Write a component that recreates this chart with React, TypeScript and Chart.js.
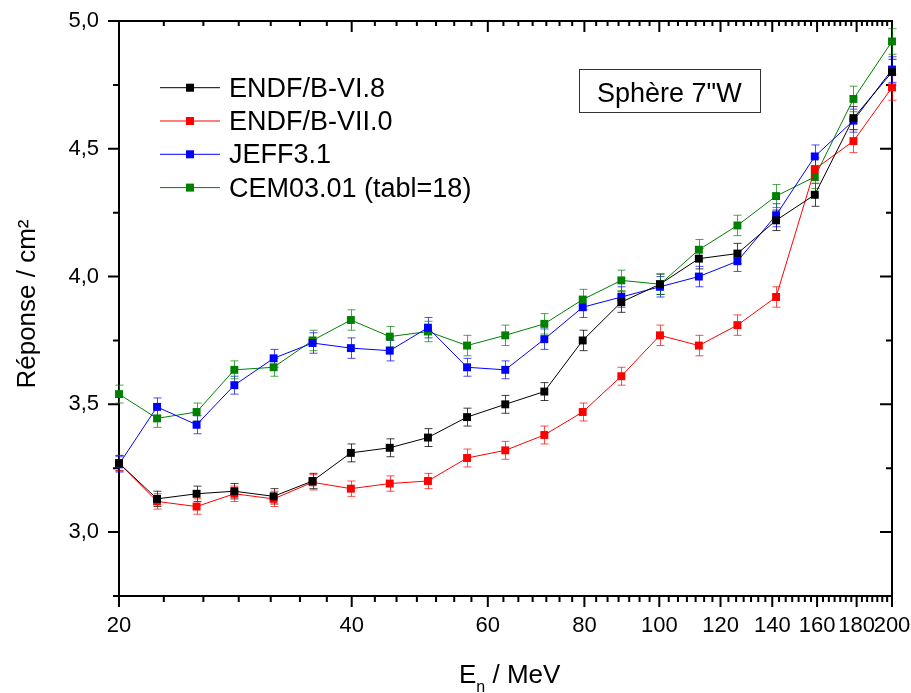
import React, { useEffect, useRef } from "react";
import { Chart, registerables } from "chart.js";

Chart.register(...registerables);

// ---- data ----
const energies = [20, 22.4, 25.2, 28.2, 31.7, 35.6, 39.9, 44.8, 50.2, 56.4, 63.2, 71.0, 79.6, 89.3, 100.2, 112.5, 126.2, 141.6, 158.9, 178.3, 200];

const endfB68 = [3.27, 3.13, 3.15, 3.16, 3.14, 3.2, 3.31, 3.33, 3.37, 3.45, 3.5, 3.55, 3.75, 3.9, 3.97, 4.07, 4.09, 4.22, 4.32, 4.62, 4.8];
const endfB68Err = [0.03, 0.03, 0.03, 0.03, 0.03, 0.03, 0.035, 0.035, 0.035, 0.035, 0.035, 0.035, 0.04, 0.04, 0.04, 0.04, 0.04, 0.04, 0.045, 0.045, 0.05];

const endfB70 = [3.27, 3.12, 3.1, 3.15, 3.13, 3.195, 3.17, 3.19, 3.2, 3.29, 3.32, 3.38, 3.47, 3.61, 3.77, 3.73, 3.81, 3.92, 4.42, 4.53, 4.74];
const endfB70Err = [0.03, 0.03, 0.03, 0.03, 0.03, 0.03, 0.03, 0.03, 0.03, 0.035, 0.035, 0.035, 0.035, 0.035, 0.04, 0.04, 0.04, 0.04, 0.045, 0.045, 0.05];

const jeff31 = [3.265, 3.49, 3.42, 3.575, 3.68, 3.74, 3.72, 3.71, 3.8, 3.645, 3.635, 3.755, 3.88, 3.92, 3.96, 4.0, 4.06, 4.24, 4.47, 4.61, 4.81];
const jeff31Err = [0.03, 0.035, 0.035, 0.035, 0.035, 0.04, 0.04, 0.04, 0.04, 0.035, 0.035, 0.04, 0.04, 0.04, 0.04, 0.04, 0.04, 0.045, 0.045, 0.045, 0.05];

const cem0301 = [3.54, 3.445, 3.47, 3.635, 3.645, 3.75, 3.83, 3.765, 3.785, 3.73, 3.77, 3.815, 3.91, 3.985, 3.97, 4.105, 4.2, 4.315, 4.39, 4.695, 4.92];
const cem0301Err = [0.035, 0.035, 0.035, 0.035, 0.035, 0.04, 0.04, 0.04, 0.04, 0.04, 0.04, 0.04, 0.04, 0.04, 0.04, 0.04, 0.04, 0.045, 0.045, 0.05, 0.05];

const seriesLabels = ["ENDF/B-VI.8", "ENDF/B-VII.0", "JEFF3.1", "CEM03.01 (tabl=18)"];
const seriesColors = ["#000000", "#ff0000", "#0000ff", "#008000"];
const errorColors = ["rgba(0,0,0,0.75)", "rgba(255,0,0,0.7)", "rgba(0,0,255,0.7)", "rgba(0,128,0,0.7)"];

const xMajorTicks = [20, 40, 60, 80, 100, 120, 140, 160, 180, 200];
const yMajorTicks = [3.0, 3.5, 4.0, 4.5, 5.0];
const yMinorTicks = [2.75, 3.25, 3.75, 4.25, 4.75];

const annotationText = 'Sphère 7"W';
const yTitle = "Réponse / cm²";

const FONT = "'Liberation Sans', Arial, Helvetica, sans-serif";

const decorPlugin = {
  id: "decor",
  beforeDatasetsDraw(chart: any) {
    const { ctx, chartArea: a, scales } = chart;
    const xs = scales.x;
    const ys = scales.y;
    ctx.save();
    ctx.strokeStyle = "#000";
    ctx.lineWidth = 2;
    ctx.strokeRect(a.left, a.top, a.right - a.left, a.bottom - a.top);
    ctx.beginPath();
    for (const v of xMajorTicks) {
      const px = xs.getPixelForValue(v);
      ctx.moveTo(px, a.bottom);
      ctx.lineTo(px, a.bottom + 11);
      ctx.moveTo(px, a.top);
      ctx.lineTo(px, a.top + 11);
    }
    for (let i = 0; i < xMajorTicks.length - 1; i++) {
      const step = (xMajorTicks[i + 1] - xMajorTicks[i]) / 7;
      for (let k = 1; k <= 6; k++) {
        const px = xs.getPixelForValue(xMajorTicks[i] + k * step);
        ctx.moveTo(px, a.bottom);
        ctx.lineTo(px, a.bottom + 6);
        ctx.moveTo(px, a.top);
        ctx.lineTo(px, a.top + 5);
      }
    }
    for (const v of yMajorTicks) {
      const py = ys.getPixelForValue(v);
      ctx.moveTo(a.left - 11, py);
      ctx.lineTo(a.left, py);
      ctx.moveTo(a.right - 12, py);
      ctx.lineTo(a.right, py);
    }
    for (const v of yMinorTicks) {
      const py = ys.getPixelForValue(v);
      ctx.moveTo(a.left - 6, py);
      ctx.lineTo(a.left, py);
      ctx.moveTo(a.right - 6, py);
      ctx.lineTo(a.right, py);
    }
    ctx.stroke();

    // error bars
    chart.data.datasets.forEach((ds: any) => {
      ctx.strokeStyle = ds.errorColor;
      ctx.lineWidth = 1;
      ctx.beginPath();
      ds.data.forEach((p: any, i: number) => {
        const px = Math.round(xs.getPixelForValue(p.x)) + 0.5;
        const t = ys.getPixelForValue(p.y + ds.errors[i]);
        const b = ys.getPixelForValue(p.y - ds.errors[i]);
        ctx.moveTo(px, t);
        ctx.lineTo(px, b);
        ctx.moveTo(px - 4, t);
        ctx.lineTo(px + 4, t);
        ctx.moveTo(px - 4, b);
        ctx.lineTo(px + 4, b);
      });
      ctx.stroke();
    });
    ctx.restore();
  },
  afterDraw(chart: any) {
    const { ctx, chartArea: a } = chart;
    ctx.save();
    ctx.fillStyle = "#000";
    // legend
    ctx.font = `27px ${FONT}`;
    ctx.textAlign = "left";
    ctx.textBaseline = "alphabetic";
    chart.data.datasets.forEach((ds: any, i: number) => {
      const base = 96.7 + i * 33.3;
      const cy = base - 9;
      ctx.strokeStyle = ds.borderColor;
      ctx.lineWidth = 1;
      ctx.beginPath();
      ctx.moveTo(160, cy);
      ctx.lineTo(220, cy);
      ctx.stroke();
      ctx.fillStyle = ds.borderColor;
      ctx.fillRect(186, cy - 4, 8, 8);
      ctx.fillStyle = "#000";
      ctx.fillText(ds.label, 229, base);
    });
    // annotation box
    ctx.strokeStyle = "#333";
    ctx.lineWidth = 1;
    ctx.fillStyle = "#fff";
    ctx.fillRect(579.5, 69.5, 181, 43);
    ctx.strokeRect(579.5, 69.5, 181, 43);
    ctx.fillStyle = "#000";
    ctx.font = `27px ${FONT}`;
    ctx.fillText(annotationText, 597, 101.5);
    // y title
    ctx.save();
    ctx.translate(35, 304);
    ctx.rotate(-Math.PI / 2);
    ctx.textAlign = "center";
    ctx.font = `26px ${FONT}`;
    ctx.fillText(yTitle, 0, 0);
    ctx.restore();
    // x title: E_n / MeV
    ctx.textAlign = "left";
    ctx.font = `26px ${FONT}`;
    let x0 = 459;
    const base = 683;
    ctx.fillText("E", x0, base);
    x0 += ctx.measureText("E").width;
    ctx.font = `16px ${FONT}`;
    ctx.fillText("n", x0, base + 9);
    x0 += ctx.measureText("n").width;
    ctx.font = `26px ${FONT}`;
    ctx.fillText(" / MeV", x0, base);
    ctx.restore();
  },
};

function buildDataset(i: number, values: number[], errs: number[]) {
  return {
    label: seriesLabels[i],
    data: energies.map((e, k) => ({ x: e, y: values[k] })),
    errors: errs,
    errorColor: errorColors[i],
    borderColor: seriesColors[i],
    backgroundColor: seriesColors[i],
    borderWidth: 1,
    pointStyle: "rect",
    pointRadius: 5.6,
    pointBorderWidth: 0,
    pointBackgroundColor: seriesColors[i],
    tension: 0,
    clip: false,
  };
}

export default function App() {
  const ref = useRef<HTMLCanvasElement>(null);
  useEffect(() => {
    if (!ref.current) return;
    const chart = new Chart(ref.current, {
      type: "line",
      data: {
        datasets: [
          buildDataset(0, endfB68, endfB68Err),
          buildDataset(1, endfB70, endfB70Err),
          buildDataset(2, jeff31, jeff31Err),
          buildDataset(3, cem0301, cem0301Err),
        ] as any,
      },
      options: {
        responsive: false,
        animation: false,
        devicePixelRatio: 1,
        layout: { padding: { left: 0, top: 21, right: 19, bottom: 0 } },
        plugins: { legend: { display: false }, tooltip: { enabled: false } },
        scales: {
          x: {
            type: "logarithmic",
            min: 20,
            max: 200,
            grid: { display: false, drawTicks: false },
            border: { display: false },
            afterBuildTicks: (s: any) => {
              s.ticks = xMajorTicks.map((v) => ({ value: v }));
            },
            afterFit: (s: any) => {
              s.height = 97;
              s.paddingLeft = 0;
              s.paddingRight = 0;
            },
            ticks: {
              autoSkip: false,
              maxRotation: 0,
              minRotation: 0,
              padding: 17,
              color: "#000",
              font: { family: FONT, size: 22 },
              callback: (v: any) => String(v),
            },
          },
          y: {
            type: "linear",
            min: 2.75,
            max: 5.0,
            grid: { display: false, drawTicks: false },
            border: { display: false },
            afterBuildTicks: (s: any) => {
              s.ticks = yMajorTicks.map((v) => ({ value: v }));
            },
            afterFit: (s: any) => {
              s.width = 119;
              s.paddingTop = 0;
              s.paddingBottom = 0;
            },
            ticks: {
              padding: 20,
              color: "#000",
              font: { family: FONT, size: 22 },
              callback: (v: any) => Number(v).toFixed(1).replace(".", ","),
            },
          },
        },
      } as any,
      plugins: [decorPlugin],
    });
    return () => chart.destroy();
  }, []);
  return (
    <div style={{ position: "fixed", left: 0, top: 0, width: 911, height: 693, background: "#fff" }}>
      <canvas ref={ref} width={911} height={693} style={{ display: "block" }} />
    </div>
  );
}
